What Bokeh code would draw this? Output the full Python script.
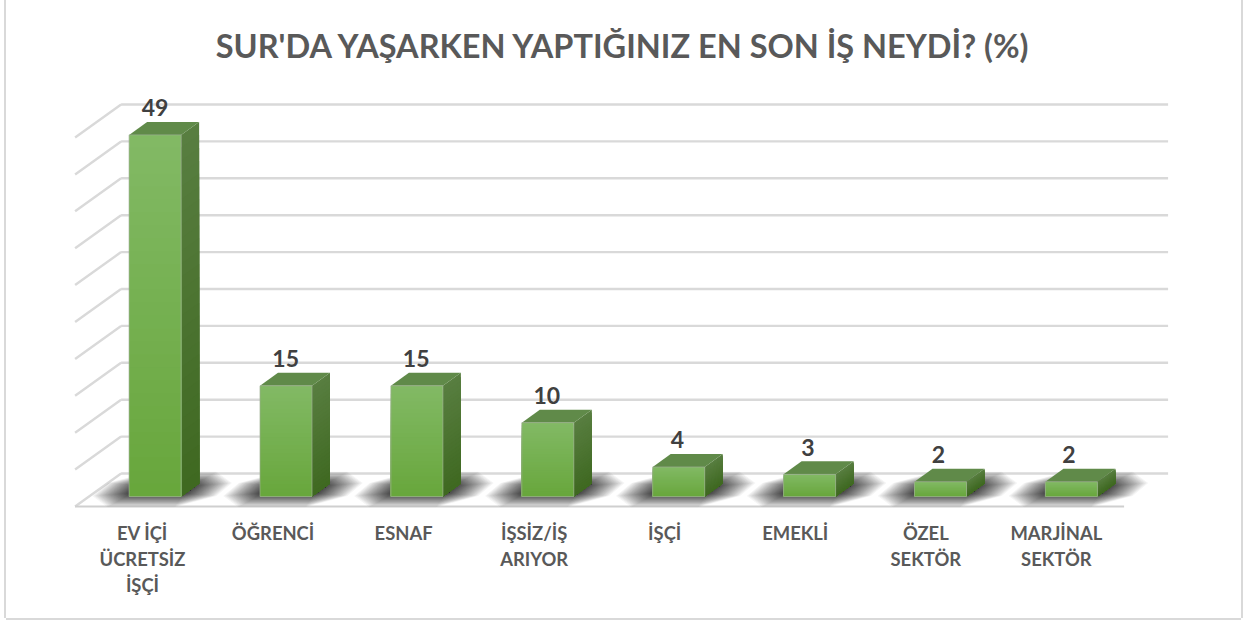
from bokeh.plotting import figure
from bokeh.models import Range1d, LinearAxis, FixedTicker
from bokeh.core.properties import value
from bokeh.embed import file_html
from bokeh.resources import INLINE

title_text = "SUR'DA YAŞARKEN YAPTIĞINIZ EN SON İŞ NEYDİ? (%)"
categories = ["EV İÇİ\nÜCRETSİZ\nİŞÇİ", "ÖĞRENCİ", "ESNAF", "İŞSİZ/İŞ\nARIYOR", "İŞÇİ", "EMEKLİ", "ÖZEL\nSEKTÖR", "MARJİNAL\nSEKTÖR"]
values = [49, 15, 15, 10, 4, 3, 2, 2]
grid_values = [0, 5, 10, 15, 20, 25, 30, 35, 40, 45, 50]

OX, OY = 6, 0     # where the canvas starts inside the chart's frame
W, H = 1241 - OX, 618 - OY
FONT = "Lato"
PX_X = 130.9      # px per category
PX_Y = 7.38       # px per unit
LABEL_PX_X = 130.55 # px per category for the text labels
X0, Y0 = 154.6 - OX, 496 - OY # pixel of category 0 and of value 0 on the front plane
TOP, BOTTOM = 92 - OY, 509 - OY

def lerp(a, b, t):
    return "#%02x%02x%02x" % tuple(round(a[i] + (b[i] - a[i]) * t) for i in range(3))

p = figure(width=W, height=H, output_backend="svg", toolbar_location=None,
           margin=(OY, 0, 0, OX),
           styles={"box-shadow": "-2px 0 0 #d9d9d9, 2px 0 0 #d9d9d9, 0 2px 0 #d9d9d9"},
           min_border_left=0, min_border_right=0,
           min_border_top=TOP, min_border_bottom=H - BOTTOM,
           x_axis_type=None, y_axis_type=None,
           x_range=Range1d(-X0 / PX_X, (W - X0) / PX_X),
           y_range=Range1d((Y0 - BOTTOM) / PX_Y, (Y0 - TOP) / PX_Y),
           title=title_text, title_location="above")
p.grid.visible = False
p.outline_line_color = None
p.background_fill_color = "white"
p.border_fill_color = "white"

p.title.align = "center"
p.title.vertical_align = "top"
p.title.text_font = FONT
p.title.text_font_style = "bold"
p.title.text_font_size = "32.5px"
p.title.text_color = "#595959"
p.title.offset = 0
p.title.standoff = 51

# walls
back_dy = (496 - 473) / PX_Y
front_dy = (496 - 506) / PX_Y
wall_back = (121 - 155) / PX_X
wall_front = (75 - 155) / PX_X
wall_right = (1168 - 155) / PX_X
floor_right = (1124 - 155) / PX_X
p.segment(x0=[wall_back] * len(grid_values), x1=[wall_right] * len(grid_values),
          y0=[v + back_dy for v in grid_values], y1=[v + back_dy for v in grid_values],
          line_color="#d9d9d9", line_width=2.4)
p.segment(x0=[wall_front] * len(grid_values), x1=[wall_back] * len(grid_values),
          y0=[v + front_dy for v in grid_values], y1=[v + back_dy for v in grid_values],
          line_color="#d9d9d9", line_width=2.4)
p.segment(x0=[wall_front], x1=[floor_right], y0=[front_dy], y1=[front_dy],
          line_color="#cfcfcf", line_width=2)

DX = 18 / PX_X
DY = 13 / PX_Y
HALF = 26 / PX_X

# soft shadows on the floor
LAYERS = 40
for layer in range(LAYERS):
    t = layer / (LAYERS - 1)
    ease = (1 - t) ** 1.6
    grow = ease * 36 / PX_X
    grow_y = ease * 14 / PX_Y
    cx, cy = grow * 0.8, grow_y * 0.8
    xs, ys = [], []
    for i in range(len(values)):
        l, r = i - HALF - grow, i + HALF + grow
        b, tp = 0.45 - grow_y, 1.45 + grow_y
        lean = lambda y: 1.2 * (y - 0.95) * PX_Y / PX_X + 7 / PX_X
        pts = [(l + cx, b), (r - cx, b), (r, b + cy), (r, tp - cy),
               (r - cx, tp), (l + cx, tp), (l, tp - cy), (l, b + cy)]
        xs.append([x + lean(y) for x, y in pts])
        ys.append([y for x, y in pts])
    p.patches(xs, ys, fill_color="#202020", fill_alpha=0.045, line_color=None)

# bars with stepped gradients
STEPS = 28
for i, v in enumerate(values):
    l, r = i - HALF, i + HALF
    # side face
    for s in range(STEPS):
        t = s / STEPS
        y = v * (1 - t)
        p.patch([r, r + DX, r + DX, r], [y, y + DY, DY, 0],
                fill_color=lerp((0x58, 0x7e, 0x40), (0x3e, 0x68, 0x20), t), line_color=None)
    # top face
    p.patch([l, r, r + DX, l + DX], [v, v, v + DY, v + DY],
            fill_color="#608a49", line_color=None)
    # front face
    for s in range(STEPS):
        t = s / STEPS
        p.quad(left=l, right=r, top=v * (1 - t), bottom=0,
               fill_color=lerp((0x82, 0xb9, 0x64), (0x67, 0xa6, 0x3b), t), line_color=None)
    p.quad(left=l, right=r, top=v, bottom=0, fill_alpha=0, line_color="#9dae93", line_width=1, line_alpha=0.7)

# data labels
label_scale = LABEL_PX_X / PX_X
p.text(x=[i * label_scale for i in range(len(values))], y=[v + DY for v in values], text=[str(v) for v in values],
       text_font=value(FONT), text_font_style="bold", text_font_size="23px", text_color="#404040",
       text_align="center", text_baseline="alphabetic", y_offset=-14)

# category axis: labels sit left of the bar centres
label_origin = 142 - OX
p.extra_x_ranges["labels"] = Range1d(-label_origin / LABEL_PX_X, (W - label_origin) / LABEL_PX_X)
axis = LinearAxis(x_range_name="labels", ticker=FixedTicker(ticks=list(range(len(values)))),
                  major_label_overrides={i: c for i, c in enumerate(categories)})
axis.axis_line_color = None
axis.major_tick_line_color = None
axis.minor_tick_line_color = None
axis.major_label_standoff = 6
axis.major_label_text_font = FONT
axis.major_label_text_font_style = "bold"
axis.major_label_text_font_size = "18.4px"
axis.major_label_text_color = "#595959"
axis.major_label_text_line_height = 1.2
p.add_layout(axis, "below")

open("out.html", "w").write(file_html(p, INLINE))
